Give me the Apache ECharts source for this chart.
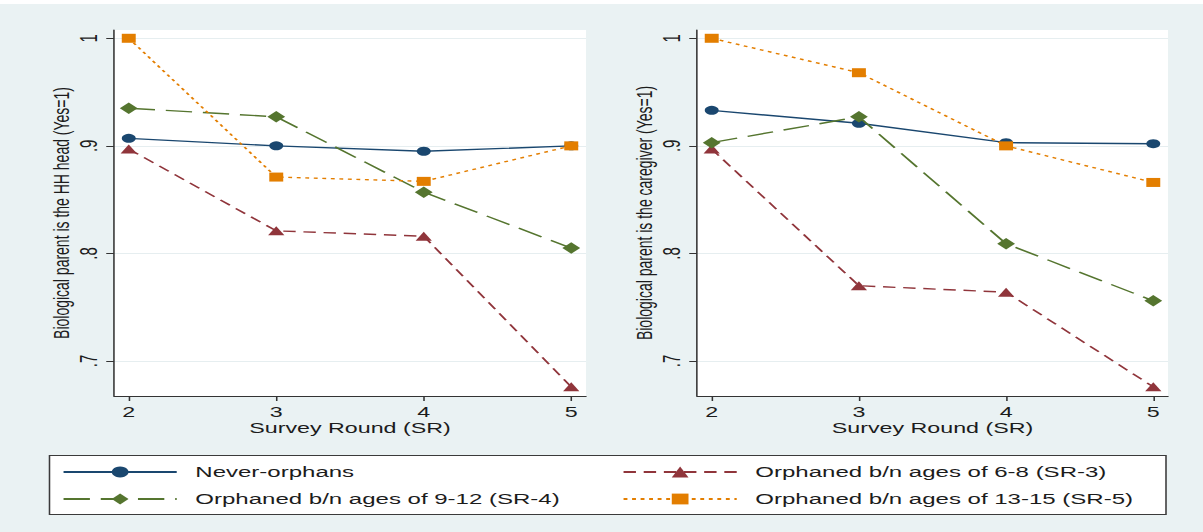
<!DOCTYPE html>
<html>
<head>
<meta charset="utf-8">
<script src="https://cdn.jsdelivr.net/npm/echarts@6/dist/echarts.min.js"></script>
<style>
  html, body { margin: 0; padding: 0; background: #eaf2f3; overflow: hidden; }
  /* the figure is laid out in a narrower box and widened horizontally */
  #chart { width: 776px; height: 532px; transform: scaleX(1.5503); transform-origin: 0 0; }
</style>
</head>
<body>
<div id="chart"></div>
<script>
// Survey rounds and y tick values
const rounds = [2, 3, 4, 5];
const yTicks = [0.7, 0.8, 0.9, 1];

// Panel 1: biological parent is the household head
const headNever = [0.907, 0.900, 0.895, 0.900];
const headSR3   = [0.897, 0.821, 0.816, 0.676];
const headSR4   = [0.935, 0.927, 0.857, 0.805];
const headSR5   = [1.000, 0.871, 0.867, 0.900];

// Panel 2: biological parent is the caregiver
const careNever = [0.933, 0.921, 0.903, 0.902];
const careSR3   = [0.897, 0.770, 0.764, 0.676];
const careSR4   = [0.903, 0.927, 0.809, 0.756];
const careSR5   = [1.000, 0.968, 0.900, 0.866];

const seriesNames = [
  'Never-orphans',
  'Orphaned b/n ages of 6-8 (SR-3)',
  'Orphaned b/n ages of 9-12 (SR-4)',
  'Orphaned b/n ages of 13-15 (SR-5)'
];

const K = 1.5503;            // horizontal widening factor
const px = v => v / K;       // convert a page x position to the inner box
const FONT = 'Liberation Sans, Arial, sans-serif';
const INK = '#1c1c1c';

const styles = [
  { color: '#1a476f', symbol: 'circle',   size: 9, dash: 'solid' },
  { color: '#90353b', symbol: 'triangle', size: [10.5, 9], dash: [8, 5] },
  { color: '#55752f', symbol: 'diamond',  size: 11.5, dash: [17, 7] },
  { color: '#e37e00', symbol: 'rect',     size: 9, dash: [2.5, 3] }
];

const pair = arr => rounds.map((r, i) => [r, arr[i]]);

function makeSeries(gridIdx, arrays) {
  return arrays.map((arr, i) => ({
    name: seriesNames[i],
    type: 'line',
    xAxisIndex: gridIdx,
    yAxisIndex: gridIdx,
    data: pair(arr),
    symbol: styles[i].symbol,
    symbolSize: styles[i].size,
    showAllSymbol: true,
    animation: false,
    itemStyle: { color: styles[i].color, opacity: 1 },
    lineStyle: { color: styles[i].color, width: 1.4, type: styles[i].dash },
    emphasis: { disabled: true },
    z: 2 + i
  }));
}

const yLabel = v => (v === 1 ? '1' : v.toFixed(1).replace(/^0/, ''));

function makeX(gridIdx) {
  return {
    gridIndex: gridIdx,
    type: 'value',
    min: 1.9,
    max: 5.1,
    name: 'Survey Round (SR)',
    nameLocation: 'middle',
    nameGap: 24,
    nameMoveOverlap: false,
    nameTextStyle: { fontSize: 15, fontFamily: FONT, color: INK },
    axisLine: { show: true, onZero: false, lineStyle: { color: '#333', width: 1 } },
    axisTick: { show: true, length: 5, customValues: rounds, lineStyle: { color: '#333' } },
    axisLabel: { customValues: rounds, margin: 8, fontSize: 15, fontFamily: FONT, color: INK },
    splitLine: { show: false }
  };
}

function makeY(gridIdx, title) {
  return {
    gridIndex: gridIdx,
    type: 'value',
    min: 0.6675,
    max: 1.0077,
    name: title,
    nameLocation: 'middle',
    nameGap: 27,
    nameTextStyle: { fontSize: 14, fontFamily: FONT, color: INK },
    axisLine: { show: true, lineStyle: { color: '#333', width: 1 } },
    axisTick: { show: true, length: 5, customValues: yTicks, lineStyle: { color: '#333' } },
    axisLabel: { customValues: yTicks, rotate: 90, margin: 9, fontSize: 15, fontFamily: FONT,
                 color: INK, formatter: yLabel },
    splitLine: { show: true, lineStyle: { color: '#e6eef0', width: 1 } }
  };
}

function makeLegend(name, left, centerY) {
  return {
    data: [name],
    left: left,
    top: centerY - 7,
    orient: 'horizontal',
    padding: 0,
    itemWidth: 73,
    itemHeight: 13.5,
    selectedMode: false,
    textStyle: { fontSize: 15.5, fontFamily: FONT, color: INK, lineHeight: 14,
                 padding: [0, 0, 0, 7] }
  };
}

const chart = echarts.init(document.getElementById('chart'), null, { renderer: 'svg' });

chart.setOption({
  backgroundColor: '#eaf2f3',
  animation: false,
  grid: [
    { left: px(114), width: px(586 - 114), top: 30, height: 366,
      show: true, backgroundColor: '#ffffff', borderWidth: 0 },
    { left: px(697), width: px(1168 - 697), top: 30, height: 366,
      show: true, backgroundColor: '#ffffff', borderWidth: 0 }
  ],
  xAxis: [makeX(0), makeX(1)],
  yAxis: [
    makeY(0, 'Biological parent is the HH head (Yes=1)'),
    makeY(1, 'Biological parent is the caregiver (Yes=1)')
  ],
  legend: [
    makeLegend(seriesNames[0], px(62), 471),
    makeLegend(seriesNames[1], px(622), 471),
    makeLegend(seriesNames[2], px(62), 498),
    makeLegend(seriesNames[3], px(622), 498)
  ],
  graphic: [
    { type: 'rect', left: 0, top: 0, z: -10, silent: true,
      shape: { width: 776, height: 4 }, style: { fill: '#ffffff' } },
    { type: 'rect', z: -5, silent: true,
      shape: { x: px(49.5), y: 455.5, width: px(1166 - 49.5), height: 59 },
      style: { fill: '#ffffff', stroke: '#3a3a3a', lineWidth: 1 } }
  ],
  series: [
    ...makeSeries(0, [headNever, headSR3, headSR4, headSR5]),
    ...makeSeries(1, [careNever, careSR3, careSR4, careSR5])
  ]
});
</script>
</body>
</html>
